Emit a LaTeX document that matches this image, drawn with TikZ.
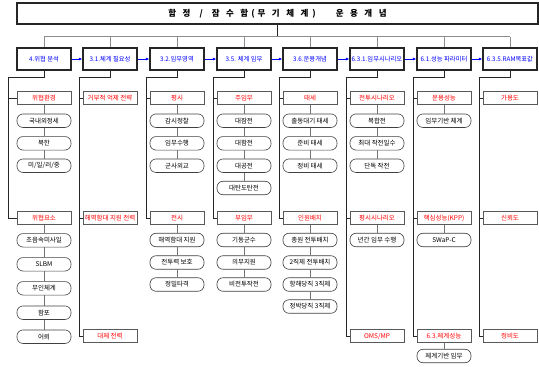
\documentclass[tikz,border=0pt]{standalone}
\usepackage{fontspec}
\setmainfont{Noto Sans CJK KR}
\usetikzlibrary{arrows.meta,shadows}
\newcommand\tsp{\hspace{6.5pt}}
\begin{document}
\begin{tikzpicture}[x=1pt,y=-1pt,
 titlebox/.style={draw=black!85,line width=1.4pt,fill=white,minimum width=521pt,minimum height=21pt,inner sep=0pt,font=\bfseries\fontsize{8.5}{9}\selectfont,drop shadow={shadow xshift=0.8pt,shadow yshift=-0.8pt,fill=black!55}},
 topbox/.style={draw=black!85,line width=1.3pt,fill=white,minimum width=54pt,minimum height=22pt,inner sep=0pt,text=blue,font=\fontsize{6.3}{7}\selectfont,drop shadow={shadow xshift=0.7pt,shadow yshift=-0.7pt,fill=black!55}},
 redbox/.style={draw=black!65,line width=0.6pt,fill=white,minimum width=54pt,minimum height=13.5pt,inner sep=0pt,text=red,font=\fontsize{6.5}{7}\selectfont},
 pill/.style={draw=black!75,line width=0.6pt,fill=white,rounded corners=6pt,minimum width=54pt,minimum height=13.5pt,inner sep=0pt,font=\fontsize{6.5}{7}\selectfont},
 spine/.style={draw=black!85,line width=0.7pt},
 link/.style={draw=black!55,line width=0.6pt},
 busline/.style={draw=black!45,line width=0.8pt},
 flow/.style={draw=blue,line width=0.6pt,-{Latex[length=3.5pt,width=3pt]}}
]
\useasboundingbox (0,0) rectangle (539,367);
\node[titlebox] (title) at (277.5,13.5) {함\tsp 정\hspace{9pt}/\hspace{9pt}잠\tsp 수\tsp 함\hspace{3pt}(\hspace{3pt}무\tsp 기\tsp 체\tsp 계\hspace{4pt})\hspace{20pt}운\tsp 용\tsp 개\tsp 념};
\coordinate (bl) at (0,36.5);
% top row
\node[topbox] (t1) at (44,59) {4.위협 분석};
\node[topbox] (t2) at (110,59) {3.1.체계 필요성};
\node[topbox] (t3) at (177,59) {3.2.임무영역};
\node[topbox] (t4) at (244,59) {3.5. 체계 임무};
\node[topbox] (t5) at (310,59) {3.6.운용개념};
\node[topbox] (t6) at (377,59) {6.3.1.임무시나리오};
\node[topbox] (t7) at (444,59) {6.1.성능 파라미터};
\node[topbox] (t8) at (510,59) {6.3.5.RAM목표값};
% spine corners
\coordinate (s1) at (8,77);
\coordinate (s2) at (79,77);
\coordinate (s3) at (146,77);
\coordinate (s4) at (213,77);
\coordinate (s5) at (279,77);
\coordinate (s6) at (346,77);
\coordinate (s7) at (413,77);
\coordinate (s8) at (479,77);
% column 1
\node[redbox] (r1a) at (44,98) {위협환경};
\node[pill] (p1a) at (44,120.7) {국내외정세};
\node[pill] (p1b) at (44,143.3) {북한};
\node[pill] (p1c) at (44,165.7) {미/일/러/중};
\node[redbox] (r1b) at (44,218) {위협요소};
\node[pill] (p1d) at (44,240.3) {초음속미사일};
\node[pill] (p1e) at (44,264.3) {SLBM};
\node[pill] (p1f) at (44,288.3) {무인체계};
\node[pill] (p1g) at (44,312.7) {함포};
\node[pill] (p1h) at (44,336.7) {어뢰};
% column 2
\node[redbox] (r2a) at (110,98) {거부적 억제 전략};
\node[redbox] (r2b) at (110,218) {해역함대 지원 전력};
\node[redbox] (r2c) at (110,336) {대체 전력};
% column 3
\node[redbox] (r3a) at (177,98) {평시};
\node[pill] (p3a) at (177,120.7) {감시정찰};
\node[pill] (p3b) at (177,143.3) {임무수행};
\node[pill] (p3c) at (177,165.7) {군사외교};
\node[redbox] (r3b) at (177,218) {전시};
\node[pill] (p3d) at (177,240) {해역함대 지원};
\node[pill] (p3e) at (177,262.5) {전투력 보호};
\node[pill] (p3f) at (177,284.5) {정밀타격};
% column 4
\node[redbox] (r4a) at (244,98) {주임무};
\node[pill] (p4a) at (244,120.7) {대잠전};
\node[pill] (p4b) at (244,143.3) {대함전};
\node[pill] (p4c) at (244,165.7) {대공전};
\node[pill] (p4d) at (244,188) {대탄도탄전};
\node[redbox] (r4b) at (244,218) {부임무};
\node[pill] (p4e) at (244,240) {기동군수};
\node[pill] (p4f) at (244,262.5) {의무지원};
\node[pill] (p4g) at (244,284.5) {비전투작전};
% column 5
\node[redbox] (r5a) at (310,98) {태세};
\node[pill] (p5a) at (310,120.7) {출동대기 태세};
\node[pill] (p5b) at (310,143.3) {준비 태세};
\node[pill] (p5c) at (310,165.7) {정비 태세};
\node[redbox] (r5b) at (310,218) {인원배치};
\node[pill] (p5d) at (310,240) {총원 전투배치};
\node[pill] (p5e) at (310,262.5) {2직제 전투배치};
\node[pill] (p5f) at (310,284.5) {항해당직 3직제};
\node[pill] (p5g) at (310,306.5) {정박당직 3직제};
% column 6
\node[redbox] (r6a) at (377,98) {전투시나리오};
\node[pill] (p6a) at (377,120.7) {복합전};
\node[pill] (p6b) at (377,143.3) {최대 작전일수};
\node[pill] (p6c) at (377,165.7) {단독 작전};
\node[redbox] (r6b) at (377,218) {평시시나리오};
\node[pill] (p6d) at (377,240) {년간 임무 수행};
\node[redbox] (r6c) at (377,336) {OMS/MP};
% column 7
\node[redbox] (r7a) at (444,98) {운용성능};
\node[pill] (p7a) at (444,120.7) {임무기반 체계};
\node[redbox] (r7b) at (444,218) {핵심성능(KPP)};
\node[pill] (p7b) at (444,240) {SWaP-C};
\node[redbox] (r7c) at (444,336) {6.3.체계성능};
\node[pill] (p7c) at (444,356) {체계기반 임무};
% column 8
\node[redbox] (r8a) at (510,98) {가용도};
\node[redbox] (r8b) at (510,218) {신뢰도};
\node[redbox] (r8c) at (510,336) {정비도};
% title to bus
\draw[spine] (title.south) -- (title.south |- bl);
\draw[busline] (t1.north |- bl) -- (t8.north |- bl);
\foreach \i in {1,...,8} \draw[busline] (t\i.north |- bl) -- (t\i.north);
% flow arrows
\foreach \a/\b in {t1/t2,t2/t3,t3/t4,t4/t5,t5/t6,t6/t7,t7/t8} \draw[flow] (\a.east) -- (\b.west);
% spines
\foreach \i/\last in {1/r1b,2/r2c,3/r3b,4/r4b,5/r5b,6/r6c,7/r7c,8/r8c}
  \draw[spine] (t\i.south) -- (t\i.south |- s\i) -- (s\i) -- (s\i |- \last.west) -- (\last.west);
\foreach \i/\r in {1/r1a,2/r2a,2/r2b,3/r3a,4/r4a,5/r5a,6/r6a,6/r6b,7/r7a,7/r7b,8/r8a,8/r8b}
  \draw[spine] (s\i |- \r.west) -- (\r.west);
% links between boxes and pills
\foreach \a/\b in {r1a/p1a,p1a/p1b,p1b/p1c,r1b/p1d,p1d/p1e,p1e/p1f,p1f/p1g,p1g/p1h,
  r3a/p3a,p3a/p3b,p3b/p3c,r3b/p3d,p3d/p3e,p3e/p3f,
  r4a/p4a,p4a/p4b,p4b/p4c,p4c/p4d,r4b/p4e,p4e/p4f,p4f/p4g,
  r5a/p5a,p5a/p5b,p5b/p5c,r5b/p5d,p5d/p5e,p5e/p5f,p5f/p5g,
  r6a/p6a,p6a/p6b,p6b/p6c,r6b/p6d,
  r7a/p7a,r7b/p7b,r7c/p7c}
  \draw[link] (\a.south) -- (\b.north);
\end{tikzpicture}
\end{document}
